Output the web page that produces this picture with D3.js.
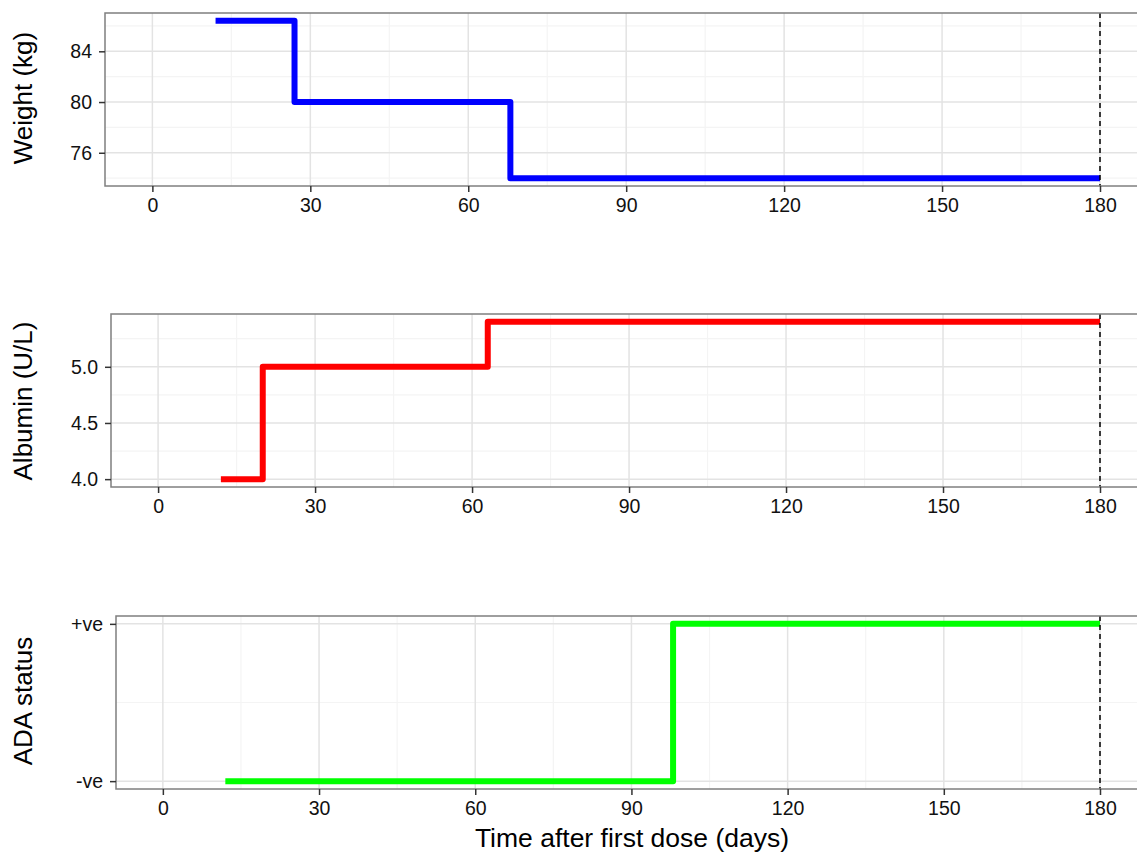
<!DOCTYPE html>
<html>
<head>
<meta charset="utf-8">
<script src="https://cdn.jsdelivr.net/npm/d3@7"></script>
<style>
  body { margin: 0; background: #fff; }
  svg { display: block; font-family: "Liberation Sans", Arial, sans-serif; }
</style>
</head>
<body>
<svg id="chart" width="1137" height="852"></svg>
<script>
// step data (days after first dose)
const weightDays = [12, 27, 68, 180];
const weightKg = [86.4, 80, 74, 74];
const albuminDays = [12, 20, 63, 180];
const albuminVals = [4.0, 5.0, 5.4, 5.4];
const adaDays = [12, 98, 180];
const adaVals = [0, 1, 1];
const adaLabels = ["-ve", "+ve"];
const xTicks = [0, 30, 60, 90, 120, 150, 180];
const xMinor = [15, 45, 75, 105, 135, 165];
const endDay = 180;

const svg = d3.select("#chart");

const panels = [
  { title: "Weight (kg)", days: weightDays, vals: weightKg, color: "#0000ff",
    left: 105, top: 13, bottom: 186, yDomain: [73.38, 87.02],
    yTicks: [76, 80, 84], yMinor: [74, 78, 82, 86], fmt: d => d, titleY: 98 },
  { title: "Albumin (U/L)", days: albuminDays, vals: albuminVals, color: "#ff0000",
    left: 111, top: 314, bottom: 487, yDomain: [3.93, 5.47],
    yTicks: [4.0, 4.5, 5.0], yMinor: [4.25, 4.75, 5.25], fmt: d3.format(".1f"), titleY: 401 },
  { title: "ADA status", days: adaDays, vals: adaVals, color: "#00ff00",
    left: 116, top: 616, bottom: 789, yDomain: [-0.05, 1.05],
    yTicks: [0, 1], yMinor: [0.5], fmt: d => adaLabels[d], titleY: 701 }
];

panels.forEach(function(p) {
  // 180 days sits at about x=1100 in every panel
  const x = d3.scaleLinear().domain([-9, 189]).range([p.left, p.left + (1100 - p.left) * 198 / 189]);
  const y = d3.scaleLinear().domain(p.yDomain).range([p.bottom, p.top]);
  const right = x.range()[1];
  const g = svg.append("g");

  // grid
  g.selectAll(".minx").data(xMinor).enter().append("line")
    .attr("x1", d => x(d)).attr("x2", d => x(d)).attr("y1", p.top).attr("y2", p.bottom)
    .attr("stroke", "#f4f4f4").attr("stroke-width", 1.2);
  g.selectAll(".miny").data(p.yMinor).enter().append("line")
    .attr("x1", p.left).attr("x2", right).attr("y1", d => y(d)).attr("y2", d => y(d))
    .attr("stroke", "#f4f4f4").attr("stroke-width", 1.2);
  g.selectAll(".majx").data(xTicks).enter().append("line")
    .attr("x1", d => x(d)).attr("x2", d => x(d)).attr("y1", p.top).attr("y2", p.bottom)
    .attr("stroke", "#e3e3e3").attr("stroke-width", 1.5);
  g.selectAll(".majy").data(p.yTicks).enter().append("line")
    .attr("x1", p.left).attr("x2", right).attr("y1", d => y(d)).attr("y2", d => y(d))
    .attr("stroke", "#e3e3e3").attr("stroke-width", 1.5);

  // step line
  const line = d3.line().x((d, i) => x(p.days[i])).y(d => y(d)).curve(d3.curveStepAfter);
  g.append("path").datum(p.vals).attr("d", line)
    .attr("fill", "none").attr("stroke", p.color).attr("stroke-width", 6)
    .attr("stroke-linejoin", "round");

  // end of follow-up
  g.append("line").attr("x1", x(endDay)).attr("x2", x(endDay)).attr("y1", p.top).attr("y2", p.bottom)
    .attr("stroke", "#000").attr("stroke-width", 1.5).attr("stroke-dasharray", "5,4");

  // panel border
  g.append("rect").attr("x", p.left).attr("y", p.top).attr("width", right - p.left).attr("height", p.bottom - p.top)
    .attr("fill", "none").attr("stroke", "#7f7f7f").attr("stroke-width", 1.5);

  // axes
  const xAxis = g.append("g").attr("transform", "translate(0," + p.bottom + ")")
    .call(d3.axisBottom(x).tickValues(xTicks).tickSize(6).tickPadding(6));
  const yAxis = g.append("g").attr("transform", "translate(" + p.left + ",0)")
    .call(d3.axisLeft(y).tickValues(p.yTicks).tickFormat(p.fmt).tickSize(6).tickPadding(7));
  [xAxis, yAxis].forEach(a => {
    a.select(".domain").remove();
    a.selectAll(".tick line").attr("stroke", "#333").attr("stroke-width", 1.5);
    a.selectAll(".tick text").attr("fill", "#111").style("font-size", "19.5px")
      .style("font-family", "'Liberation Sans', Arial, sans-serif");
  });

  g.append("text").attr("transform", "translate(32," + p.titleY + ") rotate(-90)")
    .attr("text-anchor", "middle").attr("fill", "#000").style("font-size", "26px")
    .text(p.title);
});

svg.append("text").attr("x", 632).attr("y", 847).attr("text-anchor", "middle")
  .attr("fill", "#000").style("font-size", "26.5px").text("Time after first dose (days)");
</script>
</body>
</html>
